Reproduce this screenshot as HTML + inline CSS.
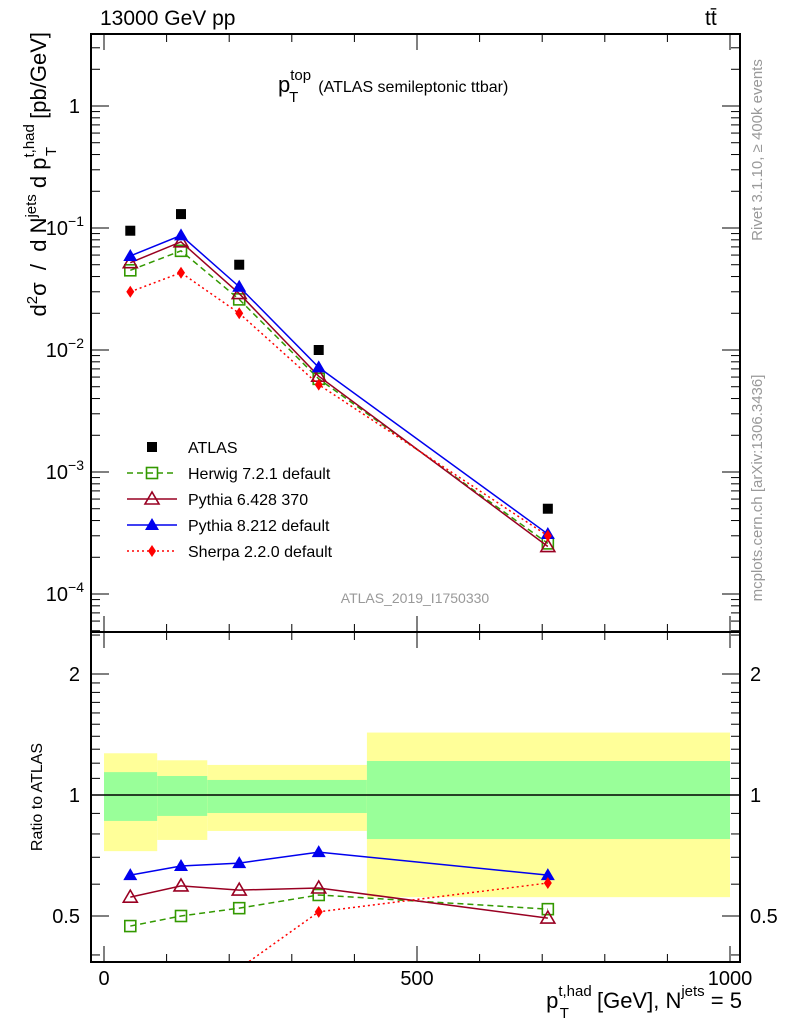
<!DOCTYPE html>
<html><head><meta charset="utf-8"><style>
body{margin:0;background:#fff}
svg{font-family:"Liberation Sans",sans-serif}
</style></head><body>
<svg id="c" width="786" height="1024" viewBox="0 0 786 1024">
<g id="bands"></g>
<g id="main"></g>
<g id="ratio"></g>
<g id="axes"></g>
<text x="100" y="25" font-size="21">13000 GeV pp</text>
<text x="705" y="25" font-size="21">tt̄</text>
<text x="278" y="92" font-size="22">p<tspan font-size="15" dy="-12">top</tspan><tspan font-size="15" dx="-22" dy="22">T</tspan><tspan font-size="16" dx="20" dy="-10">(ATLAS semileptonic ttbar)</tspan></text>
<text x="415" y="603" font-size="14" fill="#999" text-anchor="middle">ATLAS_2019_I1750330</text>
<text transform="translate(762,150) rotate(-90)" font-size="15" fill="#999" text-anchor="middle">Rivet 3.1.10, ≥ 400k events</text>
<text transform="translate(762,488) rotate(-90)" font-size="15" fill="#999" text-anchor="middle">mcplots.cern.ch [arXiv:1306.3436]</text>
<text transform="translate(46,32) rotate(-90)" font-size="22" text-anchor="end" style="white-space:pre">d<tspan font-size="15" dy="-9">2</tspan><tspan dy="9">σ  /  d N</tspan><tspan font-size="15" dy="-10">jets</tspan><tspan dy="10"> d p</tspan><tspan font-size="15" dy="-12">t,had</tspan><tspan font-size="15" dx="-32" dy="22">T</tspan><tspan dx="22" dy="-10"> [pb/GeV]</tspan></text>
<text transform="translate(42,797) rotate(-90)" font-size="16" text-anchor="middle">Ratio to ATLAS</text>
<text x="742" y="1008" font-size="22" text-anchor="end">p<tspan font-size="15" dy="-12">t,had</tspan><tspan font-size="15" dx="-32" dy="22">T</tspan><tspan dx="22" dy="-10"> [GeV], N</tspan><tspan font-size="15" dy="-12">jets</tspan><tspan dy="12"> = 5</tspan></text>
<g id="legend"></g>
</svg>
<script>
const xVals=[42,123,216,343,709];
const atlas=[0.095,0.13,0.05,0.01,0.0005];
const herwig=[0.045,0.065,0.026,0.0058,0.00026];
const pythia6=[0.052,0.077,0.029,0.0061,0.000245];
const pythia8=[0.059,0.087,0.033,0.0072,0.00031];
const sherpa=[0.030,0.043,0.020,0.0052,0.00030];
const rHerwig=[0.472,0.50,0.523,0.564,0.52];
const rPythia6=[0.557,0.594,0.58,0.587,0.494];
const rPythia8=[0.632,0.666,0.677,0.721,0.632];
const rSherpa=[0.316,0.33,0.37,0.512,0.604];
const bandEdges=[0,85,165,420,1000];
const yelLo=[0.725,0.773,0.814,0.557], yelHi=[1.27,1.22,1.188,1.43];
const grnLo=[0.862,0.887,0.902,0.777], grnHi=[1.14,1.115,1.09,1.215];
const xTicks=[0,500,1000];
const mainTicks=[1,0.1,0.01,0.001,0.0001];
const mainTickLabels=["1","10^-1","10^-2","10^-3","10^-4"];
const ratioTicks=[0.5,1,2];

const L=91,R=740,T=34,MB=632,RB=962;
const X=v=>104+v*0.626;
const Y=v=>106-Math.log10(v)*122;
const YR=v=>795-Math.log2(v)*121;
const NS="http://www.w3.org/2000/svg";
function mk(tag,at,parent){const e=document.createElementNS(NS,tag);for(const k in at)e.setAttribute(k,at[k]);parent.appendChild(e);return e;}
const gB=document.getElementById('bands'),gM=document.getElementById('main'),gR=document.getElementById('ratio'),gA=document.getElementById('axes'),gL=document.getElementById('legend');

for(let i=0;i<4;i++){
 const x0=X(bandEdges[i]),x1=X(bandEdges[i+1]);
 let r=mk('rect',{x:x0,y:YR(yelHi[i]),width:x1-x0,height:YR(yelLo[i])-YR(yelHi[i]),fill:'#ffff99'},gB);
 
 
 r=mk('rect',{x:x0,y:YR(grnHi[i]),width:x1-x0,height:YR(grnLo[i])-YR(grnHi[i]),fill:'#99ff99'},gB);
 
 
}
mk('line',{x1:L,x2:R,y1:YR(1),y2:YR(1),stroke:'#000','stroke-width':1.5},gB);

const series=[
 {n:'herwig',lab:'Herwig 7.2.1 default',c:'#339900',d:'6,4',m:'osq',v:herwig,r:rHerwig},
 {n:'pythia6',lab:'Pythia 6.428 370',c:'#990022',d:'',m:'otri',v:pythia6,r:rPythia6},
 {n:'pythia8',lab:'Pythia 8.212 default',c:'#0000ee',d:'',m:'tri',v:pythia8,r:rPythia8},
 {n:'sherpa',lab:'Sherpa 2.2.0 default',c:'#ff0000',d:'2,3',m:'dia',v:sherpa,r:rSherpa}];
function marker(m,x,y,c,g){
 if(m=='osq')return mk('rect',{x:x-5.5,y:y-5.5,width:11,height:11,fill:'none',stroke:c,'stroke-width':1.6},g);
 if(m=='otri')return mk('polygon',{points:`${x},${y-7} ${x-7},${y+5} ${x+7},${y+5}`,fill:'none',stroke:c,'stroke-width':1.6},g);
 if(m=='tri')return mk('polygon',{points:`${x},${y-7} ${x-7},${y+5} ${x+7},${y+5}`,fill:c},g);
 if(m=='dia')return mk('polygon',{points:`${x},${y-6} ${x-4},${y} ${x},${y+6} ${x+4},${y}`,fill:c},g);
 if(m=='sq')return mk('rect',{x:x-5,y:y-5,width:10,height:10,fill:c},g);
}
const clip=mk('clipPath',{id:'rc'},document.getElementById('c'));
mk('rect',{x:L,y:MB,width:R-L,height:RB-MB},clip);
gR.setAttribute('clip-path','url(#rc)');
series.forEach(s=>{
 let p=mk('polyline',{points:xVals.map((x,i)=>X(x)+','+Y(s.v[i])).join(' '),fill:'none',stroke:s.c,'stroke-width':1.5,'stroke-dasharray':s.d},gM);
 
 
 xVals.forEach((x,i)=>{const e=marker(s.m,X(x),Y(s.v[i]),s.c,gM);
  
  });
 p=mk('polyline',{points:xVals.map((x,i)=>X(x)+','+YR(s.r[i])).join(' '),fill:'none',stroke:s.c,'stroke-width':1.5,'stroke-dasharray':s.d},gR);
 
 
 xVals.forEach((x,i)=>{const e=marker(s.m,X(x),YR(s.r[i]),s.c,gR);
  
  });
});
xVals.forEach((x,i)=>{const e=marker('sq',X(x),Y(atlas[i]),'#000',gM);
 
 });

const leg=[{lab:'ATLAS',m:'sq',c:'#000',d:null}].concat(series);
leg.forEach((s,i)=>{const y=447+i*26;
 if(s.d!==null)mk('line',{x1:127,x2:177,y1:y,y2:y,stroke:s.c,'stroke-width':1.5,'stroke-dasharray':s.d},gL);
 marker(s.m,152,y,s.c,gL);
 const t=mk('text',{x:188,y:y+6,'font-size':16},gL);t.textContent=s.lab;
 
 
});

mk('rect',{x:L,y:T,width:R-L,height:MB-T,fill:'none',stroke:'#000','stroke-width':2},gA);
mk('rect',{x:L,y:MB,width:R-L,height:RB-MB,fill:'none',stroke:'#000','stroke-width':2},gA);
for(let v=0;v<=1000;v+=100){const x=X(v),big=v%500==0,h=big?16:8;
 [[T,1],[MB,-1],[MB,1],[RB,-1]].forEach(([y,s])=>mk('line',{x1:x,x2:x,y1:y,y2:y+s*h,stroke:'#000'},gA));}
xTicks.forEach(v=>{const t=mk('text',{x:X(v),y:985,'font-size':20,'text-anchor':'middle'},gA);t.textContent=v;
 
 });
for(let e=-5;e<=1;e++)for(let k=1;k<10;k++){const v=k*Math.pow(10,e),y=Y(v);if(y<T||y>MB)continue;const h=k==1?18:9;
 mk('line',{x1:L,x2:L+h,y1:y,y2:y,stroke:'#000'},gA);mk('line',{x1:R,x2:R-h,y1:y,y2:y,stroke:'#000'},gA);}
mainTicks.forEach((v,i)=>{const t=mk('text',{x:i==0?80:82,y:Y(v)+7,'font-size':20,'text-anchor':'end'},gA);
 const lab=mainTickLabels[i];
 if(lab.indexOf('^')<0)t.textContent=lab;else{const [b,ex]=lab.split('^');t.textContent=b;const ts=mk('tspan',{'font-size':14,dy:-9},t);ts.textContent=ex.replace('-','−');t.setAttribute('x',84);}
 
 });
[0.4,0.5,0.6,0.7,0.8,0.9,1,1.1,1.2,1.3,1.4,1.5,1.6,1.7,1.8,1.9,2,2.5].forEach(v=>{const y=YR(v);if(y<MB||y>RB)return;const h=(v==0.5||v==1||v==2)?18:9;
 mk('line',{x1:L,x2:L+h,y1:y,y2:y,stroke:'#000'},gA);mk('line',{x1:R,x2:R-h,y1:y,y2:y,stroke:'#000'},gA);});
ratioTicks.forEach(v=>{[[80,'end'],[750,'start']].forEach(([x,a])=>{const t=mk('text',{x:x,y:YR(v)+7,'font-size':20,'text-anchor':a},gA);t.textContent=v;
 
 });});
</script>
</body></html>
